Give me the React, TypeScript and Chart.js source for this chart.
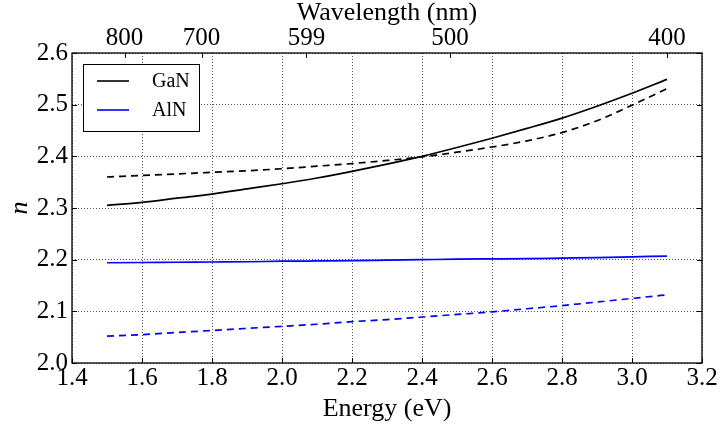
import React, { useEffect, useRef } from "react";
import { Chart, registerables } from "chart.js";

Chart.register(...registerables);

// Photon energy (eV)
const energy = [1.5, 1.6, 1.7, 1.8, 1.9, 2.0, 2.1, 2.2, 2.3, 2.4, 2.5, 2.6, 2.7, 2.8, 2.9, 3.0, 3.1];
// Refractive index n
const ganSolid = [2.305, 2.311, 2.319, 2.327, 2.337, 2.347, 2.358, 2.371, 2.385, 2.4, 2.417, 2.435, 2.454, 2.474, 2.497, 2.522, 2.549];
const ganDashed = [2.36, 2.363, 2.366, 2.369, 2.372, 2.376, 2.381, 2.386, 2.392, 2.399, 2.408, 2.418, 2.43, 2.446, 2.469, 2.499, 2.531];
const alnSolid = [2.194, 2.1945, 2.195, 2.1955, 2.196, 2.197, 2.1975, 2.198, 2.199, 2.2, 2.201, 2.2015, 2.202, 2.203, 2.204, 2.2055, 2.207];
const alnDashed = [2.052, 2.055, 2.059, 2.063, 2.067, 2.071, 2.075, 2.08, 2.084, 2.089, 2.094, 2.099, 2.105, 2.111, 2.118, 2.125, 2.132];

// Top axis: wavelength labels placed at the matching photon energy
const wavelengthEnergy = [1.55, 1.77, 2.07, 2.48, 3.1];
const wavelengthLabels = ["800", "700", "599", "500", "400"];

const legendLabels = ["GaN", "AlN"];

const FONT = '"Liberation Serif", "Times New Roman", serif';

Chart.defaults.font.family = FONT;
Chart.defaults.color = "#000";

const toPoints = (ys: number[]) => energy.map((x, i) => ({ x, y: ys[i] }));

const framePlugin = {
  id: "frameTicksLegend",
  afterDraw(chart: any) {
    const { ctx, chartArea: a, scales } = chart;
    ctx.save();
    // frame
    ctx.strokeStyle = "#000";
    ctx.lineWidth = 1.3;
    ctx.setLineDash([]);
    ctx.strokeRect(a.left, a.top, a.right - a.left, a.bottom - a.top);

    // inward tick marks
    const L = 5;
    ctx.lineWidth = 1;
    ctx.beginPath();
    scales.x.ticks.forEach((t: any) => {
      const px = Math.round(scales.x.getPixelForValue(t.value)) + 0.5;
      ctx.moveTo(px, a.bottom);
      ctx.lineTo(px, a.bottom - L);
    });
    scales.x2.ticks.forEach((t: any) => {
      const px = Math.round(scales.x2.getPixelForValue(t.value)) + 0.5;
      ctx.moveTo(px, a.top);
      ctx.lineTo(px, a.top + L);
    });
    scales.y.ticks.forEach((t: any) => {
      const py = Math.round(scales.y.getPixelForValue(t.value)) + 0.5;
      ctx.moveTo(a.left, py);
      ctx.lineTo(a.left + L, py);
      ctx.moveTo(a.right, py);
      ctx.lineTo(a.right - L, py);
    });
    ctx.stroke();

    // legend box
    const bx = a.left + 11;
    const by = a.top + 11;
    const bw = 116;
    const bh = 67;
    ctx.fillStyle = "#fff";
    ctx.fillRect(bx, by, bw, bh);
    ctx.lineWidth = 1;
    ctx.strokeStyle = "#000";
    ctx.strokeRect(bx + 0.5, by + 0.5, bw, bh);
    const sets = [chart.data.datasets[0], chart.data.datasets[2]];
    ctx.font = `20px ${FONT}`;
    ctx.textBaseline = "middle";
    ctx.textAlign = "left";
    sets.forEach((ds: any, i: number) => {
      const y = by + 17 + i * 29;
      ctx.strokeStyle = ds.borderColor;
      ctx.lineWidth = 1.6;
      ctx.beginPath();
      ctx.moveTo(bx + 14, y);
      ctx.lineTo(bx + 46, y);
      ctx.stroke();
      ctx.fillStyle = "#000";
      ctx.fillText(legendLabels[i], bx + 69, y + 1);
    });
    ctx.restore();
  },
};

export default function App() {
  const ref = useRef<HTMLCanvasElement | null>(null);

  useEffect(() => {
    document.body.style.margin = "0";
    const canvas = ref.current;
    if (!canvas) return;

    const line = (data: number[], color: string, dashed: boolean) => ({
      data: toPoints(data),
      borderColor: color,
      backgroundColor: color,
      borderWidth: 1.7,
      borderDash: dashed ? [7, 5] : [],
      pointRadius: 0,
      fill: false,
      cubicInterpolationMode: "monotone" as const,
    });

    const tickFont = () => ({ family: FONT, size: 25 });
    const titleFont = () => ({ family: FONT, size: 26 });
    const gridStyle = () => ({
      color: "rgba(0,0,0,0.85)",
      lineWidth: 0.8,
      drawTicks: false,
    });

    const chart = new Chart(canvas, {
      type: "line",
      data: {
        datasets: [
          { label: "GaN", ...line(ganSolid, "#000000", false) },
          { label: "GaN dashed", ...line(ganDashed, "#000000", true) },
          { label: "AlN", ...line(alnSolid, "#0000ff", false) },
          { label: "AlN dashed", ...line(alnDashed, "#0000ff", true) },
        ],
      },
      options: {
        animation: false,
        responsive: false,
        layout: { padding: { left: 0, right: 20, top: 0, bottom: 0 } },
        plugins: { legend: { display: false }, tooltip: { enabled: false } },
        scales: {
          x: {
            type: "linear",
            position: "bottom",
            min: 1.4,
            max: 3.2,
            ticks: {
              stepSize: 0.2,
              autoSkip: false,
              maxRotation: 0,
              padding: 0,
              color: "#000",
              font: tickFont(),
              callback: (v: any) => Number(v).toFixed(1),
            },
            grid: gridStyle(),
            border: { display: false, dash: [1, 2] },
            title: {
              display: true,
              text: "Energy (eV)",
              color: "#000",
              font: titleFont(),
              padding: { top: 4, bottom: 0 },
            },
            afterFit: (s: any) => {
              s.height = 62;
            },
          },
          x2: {
            type: "linear",
            position: "top",
            min: 1.4,
            max: 3.2,
            afterBuildTicks: (s: any) => {
              s.ticks = wavelengthEnergy.map((value) => ({ value }));
            },
            ticks: {
              autoSkip: false,
              maxRotation: 0,
              padding: 0,
              color: "#000",
              font: tickFont(),
              callback: (_v: any, i: number) => wavelengthLabels[i],
            },
            grid: { display: false, drawTicks: false },
            border: { display: false },
            title: {
              display: true,
              text: "Wavelength (nm)",
              color: "#000",
              font: titleFont(),
              padding: { top: -2, bottom: 0 },
            },
            afterFit: (s: any) => {
              s.height = 53;
            },
          },
          y: {
            type: "linear",
            min: 2.0,
            max: 2.6,
            ticks: {
              stepSize: 0.1,
              padding: 4,
              color: "#000",
              font: tickFont(),
              callback: (v: any) => Number(v).toFixed(1),
            },
            grid: gridStyle(),
            border: { display: false, dash: [1, 2] },
            title: {
              display: true,
              text: "n",
              color: "#000",
              font: { family: FONT, size: 26, style: "italic" },
              padding: { top: 5, bottom: 0 },
            },
            afterFit: (s: any) => {
              s.width = 72;
            },
          },
        },
      },
      plugins: [framePlugin],
    } as any);

    return () => chart.destroy();
  }, []);

  return (
    <div style={{ position: "absolute", left: 0, top: 0, width: 722, height: 425, background: "#fff" }}>
      <canvas ref={ref} width={722} height={425} style={{ width: 722, height: 425, display: "block" }} />
    </div>
  );
}
